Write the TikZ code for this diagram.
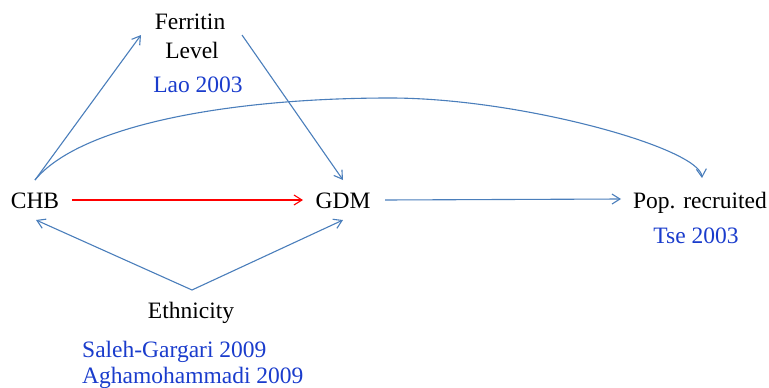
\documentclass[tikz,border=0pt]{standalone}
\usepackage{fontspec}
\setmainfont{Liberation Serif}
\usetikzlibrary{arrows.meta,calc}
\definecolor{arrowblue}{RGB}{74,126,187}
\definecolor{refblue}{RGB}{26,60,204}
\begin{document}
\begin{tikzpicture}[x=1pt,y=-1pt,
  lbl/.style={inner sep=0pt,anchor=base,font=\fontsize{23.5}{28}\selectfont},
  ref/.style={lbl,text=refblue},
  conn/.style={draw=arrowblue,line width=1.1pt,-{Straight Barb[length=8pt,width=10pt,line width=1.1pt]}},
  redconn/.style={conn,draw=red}]
\useasboundingbox (0,0) rectangle (769,388);
\node[lbl] (ferr) at (190,30) {Ferritin};
\node[lbl] (lev) at (192,58) {Level};
\node[ref] (lao) at (198,92) {Lao 2003};
\node[lbl] (chb) at (35,208) {CHB};
\node[lbl] (gdm) at (343,208) {GDM};
\node[lbl] (pop) at (700,208) {Pop. recruited};
\node[ref] (tse) at (696,243) {Tse 2003};
\node[lbl] (eth) at (191,318) {Ethnicity};
\node[ref,anchor=base west] (sg) at (82,357) {Saleh-Gargari 2009};
\node[ref,anchor=base west] (ag) at (82,383) {Aghamohammadi 2009};
\draw[conn] ($(chb.base)+(0,-28)$) -- ($(ferr.base)+(-49,5)$);
\draw[conn] ($(ferr.base)+(52,5)$) -- ($(gdm.base)+(0,-28)$);
\draw[redconn] ($(chb.base)+(37,-8)$) -- ($(gdm.base)+(-40,-8)$);
\draw[conn] ($(gdm.base)+(42,-8)$) -- ($(pop.base)+(-79,-9)$);
\draw[conn] ($(eth.base)+(1,-28)$) -- ($(chb.base)+(1,12)$);
\draw[conn] ($(eth.base)+(1,-28)$) -- ($(gdm.base)+(0,12)$);
\draw[conn] ($(chb.base)+(0,-28)$) .. controls (80,125) and (230,98) .. (390,98)
  .. controls (520,98) and (700,148) .. ($(pop.base)+(2,-30)$);
\end{tikzpicture}
\end{document}
